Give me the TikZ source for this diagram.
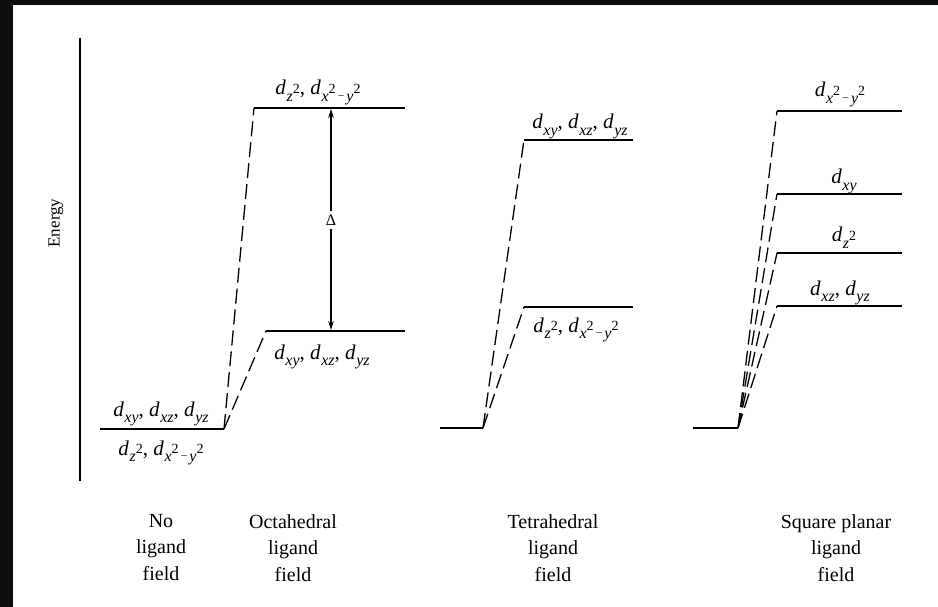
\documentclass[tikz,border=0pt]{standalone}
\usepackage{fontspec}
\setmainfont{Liberation Serif}
\usetikzlibrary{arrows.meta}
\newcommand\orb[1]{\textit{d}\kern0.03em\raisebox{-0.3em}{\fontsize{16}{16}\selectfont\textit{#1}}}
\newcommand\tw{\raisebox{0.5em}{\fontsize{14}{14}\selectfont\upshape 2}}
\newcommand\mn{\,\raisebox{0.15em}{\fontsize{11}{11}\selectfont\upshape –}\,}
\begin{document}
\begin{tikzpicture}[x=1pt,y=-1pt,
  lvl/.style={line width=2.8pt},
  dsh/.style={line width=1.3pt, dash pattern=on 15pt off 6pt},
  axisline/.style={line width=1.5pt},
  lab/.style={font=\fontsize{21}{24}\selectfont, inner sep=0pt, anchor=base},
  caption/.style={font=\fontsize{20}{26.5}\selectfont, align=center, inner sep=0pt, anchor=north},
  arr/.style={line width=1.3pt, -{Stealth[length=9pt,width=5.5pt]}}]
\fill[black!95] (0,0) rectangle (938,607);
\fill[white] (13,5) rectangle (938,607);
\useasboundingbox (0,0) rectangle (938,607);
% axis
\coordinate (axT) at (80,38);
\coordinate (axB) at (80,481);
\draw[axisline] (axT) -- (axB);
\node[rotate=90, font=\fontsize{17}{18}\selectfont, inner sep=0pt] (energy) at (56,223) {Energy};
% no ligand field
\coordinate (n0L) at (100,429);
\coordinate (n0R) at (224,429);
\draw[lvl] (n0L) -- (n0R);
\node[lab] (n0a) at (161,416) {\orb{xy}, \orb{xz}, \orb{yz}};
\node[lab] (n0b) at (161,455) {\orb{z\tw}, \orb{x\tw\mn y\tw}};
% octahedral
\coordinate (oUL) at (254,108);
\coordinate (oUR) at (405,108);
\coordinate (oLL) at (266,331);
\coordinate (oLR) at (405,331);
\draw[lvl] (oUL) -- (oUR);
\draw[lvl] (oLL) -- (oLR);
\draw[dsh] (n0R) -- (oUL);
\draw[dsh] (n0R) -- (oLL);
\node[lab] (oa) at (318,95) {\orb{z\tw}, \orb{x\tw\mn y\tw}};
\node[lab] (ob) at (322,359) {\orb{xy}, \orb{xz}, \orb{yz}};
\coordinate (aT) at (331,109);
\coordinate (aB) at (331,330);
\node[font=\fontsize{16}{16}\selectfont, inner sep=4pt] (delta) at (331,220) {Δ};
\draw[arr] (delta.north) -- (aT);
\draw[arr] (delta.south) -- (aB);
% tetrahedral
\coordinate (tBL) at (440,428);
\coordinate (tBR) at (483,428);
\coordinate (tUL) at (524,140);
\coordinate (tUR) at (633,140);
\coordinate (tLL) at (524,307);
\coordinate (tLR) at (633,307);
\draw[lvl] (tBL) -- (tBR);
\draw[lvl] (tUL) -- (tUR);
\draw[lvl] (tLL) -- (tLR);
\draw[dsh] (tBR) -- (tUL);
\draw[dsh] (tBR) -- (tLL);
\node[lab] (ta) at (580,129) {\orb{xy}, \orb{xz}, \orb{yz}};
\node[lab] (tb) at (576,332) {\orb{z\tw}, \orb{x\tw\mn y\tw}};
% square planar
\coordinate (sBL) at (693,428);
\coordinate (sBR) at (738,428);
\foreach \n/\y in {1/111,2/194,3/253,4/306}{
  \coordinate (s\n L) at (777,\y);
  \coordinate (s\n R) at (902,\y);
  \draw[lvl] (s\n L) -- (s\n R);
  \draw[dsh] (sBR) -- (s\n L);
}
\draw[lvl] (sBL) -- (sBR);
\node[lab] (sa) at (840,97) {\orb{x\tw\mn y\tw}};
\node[lab] (sb) at (844,184) {\orb{xy}};
\node[lab] (sc) at (844,242) {\orb{z\tw}};
\node[lab] (sd) at (840,295) {\orb{xz}, \orb{yz}};
% captions
\node[caption] (c1) at (161,514) {No\\ligand\\field};
\node[caption] (c2) at (293,514) {Octahedral\\ligand\\field};
\node[caption] (c3) at (553,514) {Tetrahedral\\ligand\\field};
\node[caption] (c4) at (836,514) {Square planar\\ligand\\field};
\end{tikzpicture}
\end{document}
